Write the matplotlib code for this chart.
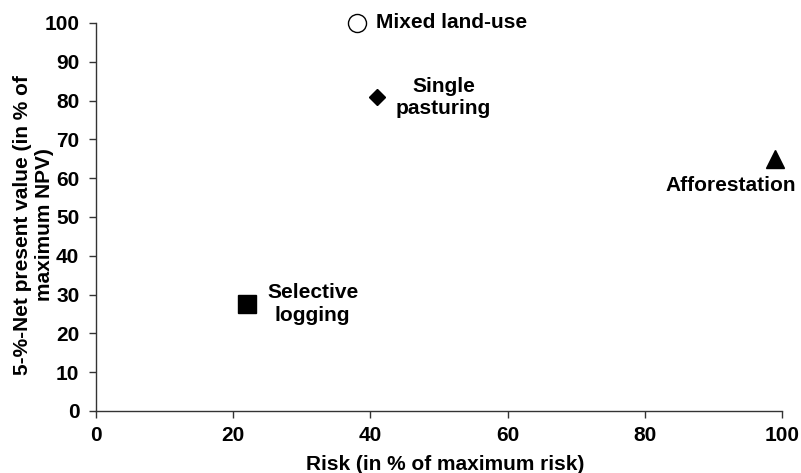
import matplotlib
matplotlib.use("Agg")
import matplotlib.pyplot as plt

plt.rcParams['font.family'] = ['Liberation Sans', 'DejaVu Sans']
plt.rcParams['font.weight'] = 'bold'

names = ["Mixed land-use", "Single\npasturing", "Afforestation", "Selective\nlogging"]
risk = [38, 41, 99, 22]
npv = [100, 81, 65, 27.5]
markers = ["o", "D", "^", "s"]
facecolors = ["white", "black", "black", "black"]
sizes = [13, 8.5, 13, 12.5]
label_offsets = [(14, 0), (13.5, -0.5), (-32, -19), (14.5, 0)]
label_ha = ["left", "left", "center", "left"]

xticks = [0, 20, 40, 60, 80, 100]
yticks = [0, 10, 20, 30, 40, 50, 60, 70, 80, 90, 100]

FS = 15

fig = plt.figure(figsize=(8.01, 4.73), dpi=100)
ax = fig.add_axes([0.1199, 0.1311, 0.8564, 0.8203])

for x, y, m, fc, s, nm, off, ha in zip(risk, npv, markers, facecolors, sizes, names, label_offsets, label_ha):
    ax.plot([x], [y], marker=m, markersize=s, markerfacecolor=fc,
            markeredgecolor='black', markeredgewidth=1.0, linestyle='none', clip_on=False)
    ax.annotate(nm, (x, y), xytext=off, textcoords='offset points',
                ha=ha, va='center', fontsize=FS, fontweight='bold', linespacing=1.25,
                multialignment='center')

ax.set_xlim(0, 100)
ax.set_ylim(0, 100)
ax.set_xticks(xticks)
ax.set_yticks(yticks)
ax.tick_params(direction='out', length=5, width=1, color='#333333', labelsize=FS)
for lbl in ax.get_xticklabels() + ax.get_yticklabels():
    lbl.set_fontweight('bold')
ax.tick_params(axis='x', pad=6)
ax.tick_params(axis='y', pad=7)
for sp in ['top', 'right']:
    ax.spines[sp].set_visible(False)
for sp in ['left', 'bottom']:
    ax.spines[sp].set_color('#333333')
    ax.spines[sp].set_linewidth(1.0)

ax.set_xlabel("Risk (in % of maximum risk)", fontsize=FS, fontweight='bold')
ax.xaxis.set_label_coords(0.509, -0.113)
ax.set_ylabel("5-%-Net present value (in % of\nmaximum NPV)", fontsize=FS, fontweight='bold',
              linespacing=1.2)
ax.yaxis.set_label_coords(-0.061, 0.48)

fig.savefig("out.png", dpi=100)
